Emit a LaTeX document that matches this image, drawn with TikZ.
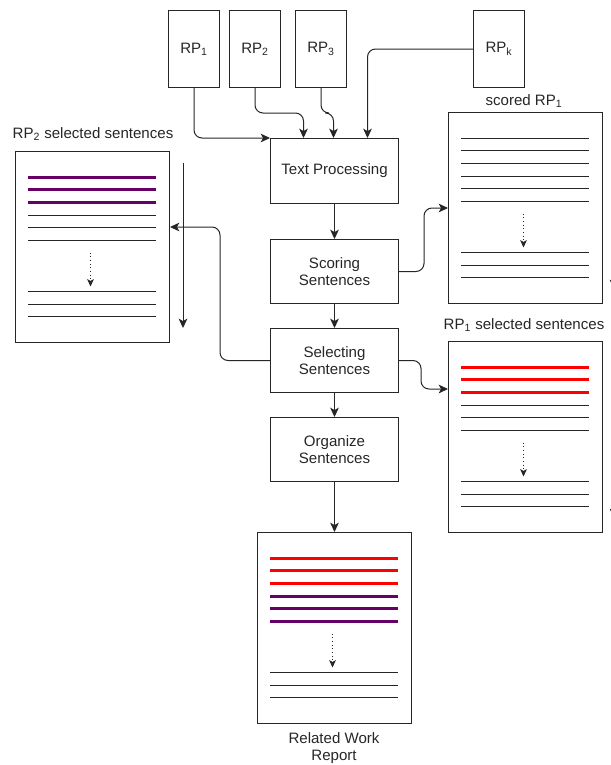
\documentclass[tikz,border=0pt]{standalone}
\usepackage{fontspec}
\setmainfont{Liberation Sans}
\usetikzlibrary{arrows.meta,calc}

% ruled lines of a page: #1 page node, #2 styles of the six top lines
\newcommand\drawdoclines[2]{%
  \foreach \s [count=\i from 0] in {#2}{
    \draw[\s] ($(#1.north west)+(13,26+12.7*\i)$) -- ++(128,0);
  }
  \draw[dotarr] ($(#1.north west)+(75.5,26+12.7*5+12)$) -- ++(0,34);
  \foreach \i in {0,1,2}{
    \draw[plainline] ($(#1.north west)+(13,26+12.7*5+51+12.7*\i)$) -- ++(128,0);
  }
}

\begin{document}
\begin{tikzpicture}[x=0.75pt,y=-0.75pt,
  line width=0.75pt,
  font=\fontsize{11.3pt}{13.2pt}\selectfont,
  every node/.style={text=black!85},
  wh/.style 2 args={minimum width=#1*0.75pt, minimum height=#2*0.75pt},
  box/.style={draw=black!85, rectangle, anchor=north west, inner sep=0pt, align=center},
  page/.style={box, wh={154}{191}},
  conn/.style={draw=black!85, rounded corners=6pt,
    -{Stealth[length=7pt,width=6.5pt,inset=1.8pt]}},
  plainline/.style={draw=black!85, line width=0.75pt},
  redline/.style={draw=red, line width=2.25pt},
  purpleline/.style={draw={rgb,255:red,102;green,0;blue,102}, line width=2.25pt},
  dotarr/.style={draw=black!85, dash pattern=on 0.75pt off 2pt,
    -{Stealth[length=5.5pt,width=5pt,inset=1.3pt]}}
]
\useasboundingbox (0,0) rectangle (611,765);
\clip (0,0) rectangle (611,765);

% input papers
\node[box, wh={51}{77}] (rp1) at (168,10) {RP\textsubscript{1}};
\node[box, wh={51}{77}] (rp2) at (229,10) {RP\textsubscript{2}};
\node[box, wh={51}{77}] (rp3) at (295,10) {RP\textsubscript{3}};
\node[box, wh={51}{77}] (rpk) at (473,10) {RP\textsubscript{k}};

% processing steps
\node[box, wh={128}{65}] (tp) at (270,138) {Text Processing};
\node[box, wh={128}{64}] (score) at (270,239) {Scoring\\Sentences};
\node[box, wh={128}{64}] (select) at (270,328) {Selecting\\Sentences};
\node[box, wh={128}{64}] (organize) at (270,417) {Organize\\Sentences};

% pages
\node[page] (leftdoc) at (15,151) {};
\node[page] (scored) at (448,112) {};
\node[page] (sel1) at (448,341) {};
\node[page] (report) at (257,532) {};

\drawdoclines{leftdoc}{purpleline,purpleline,purpleline,plainline,plainline,plainline}
\drawdoclines{scored}{plainline,plainline,plainline,plainline,plainline,plainline}
\drawdoclines{sel1}{redline,redline,redline,plainline,plainline,plainline}
\drawdoclines{report}{redline,redline,redline,purpleline,purpleline,purpleline}

% captions
\node (lbl2) at (93,134) {RP\textsubscript{2} selected sentences};
\node (lbls) at (524,101) {scored RP\textsubscript{1}};
\node (lbl1) at (524,325) {RP\textsubscript{1} selected sentences};
\node[align=center] (lblr) at (334,748) {Related Work\\Report};

% inputs into text processing
\draw[conn] (rp1.south) |- (tp.north west);
\draw[conn] (rp2.south) -- ++(0,25) -| ($(tp.north)+(-31,0)$);
\draw[conn] (rp3.south) -- ++(0,25) -| ($(tp.north)+(-1,0)$);
\draw[conn] (rpk.west) -| ($(tp.north)+(33,0)$);

% main flow
\draw[conn] (tp.south) -- (score.north);
\draw[conn] (score.south) -- (select.north);
\draw[conn] (select.south) -- (organize.north);
\draw[conn] (organize.south) -- (report.north);

% side outputs
\draw[conn] (score.east) -- ++(25,0) |- (scored.west);
\draw[conn] (select.east) -- ++(22,0) |- ($(sel1.north west)+(0,48)$);
\draw[conn] (select.west) -- ++(-50,0) |- ($(leftdoc.north east)+(0,76)$);

% reading direction beside the pages
\coordinate (la) at ($(leftdoc.north east)+(13,12)$);
\coordinate (lb) at ($(leftdoc.south east)+(13,-15)$);
\draw[conn] (la) -- (lb);
\coordinate (sa) at ($(scored.north east)+(11,12)$);
\coordinate (sb) at ($(scored.south east)+(11,-15)$);
\draw[conn] (sa) -- (sb);
\coordinate (ra) at ($(sel1.north east)+(11,12)$);
\coordinate (rb) at ($(sel1.south east)+(11,-15)$);
\draw[conn] (ra) -- (rb);
\end{tikzpicture}
\end{document}
